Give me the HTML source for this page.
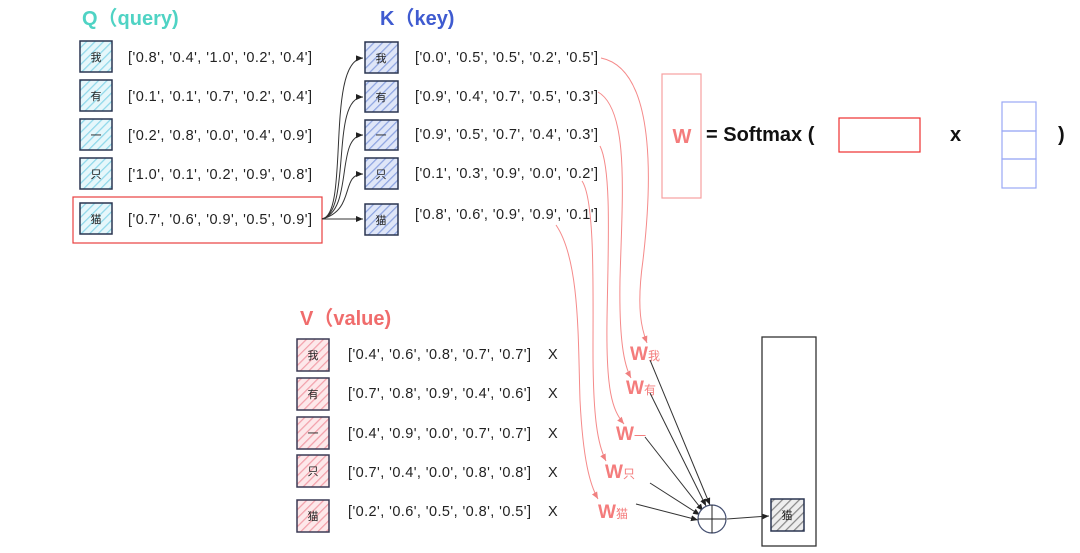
<!DOCTYPE html>
<html><head><meta charset="utf-8"><style>
html,body{margin:0;padding:0;background:#fff;}
svg{display:block;font-family:"Liberation Sans","Noto Sans CJK SC",sans-serif;}
.t{font-size:14.5px;fill:#222;}
.c{font-size:11px;fill:#222;}
</style></head><body>
<svg width="1080" height="553" viewBox="0 0 1080 553" xmlns="http://www.w3.org/2000/svg">
<defs>
<pattern id="hq" width="6" height="6" patternUnits="userSpaceOnUse" patternTransform="rotate(45)"><rect width="6" height="6" fill="#e6f7fb"/><line x1="0" y1="0" x2="0" y2="6" stroke="#8fd8ea" stroke-width="2.5"/></pattern>
<pattern id="hk" width="6" height="6" patternUnits="userSpaceOnUse" patternTransform="rotate(45)"><rect width="6" height="6" fill="#dfe6f8"/><line x1="0" y1="0" x2="0" y2="6" stroke="#8ea4e0" stroke-width="2.5"/></pattern>
<pattern id="hv" width="6" height="6" patternUnits="userSpaceOnUse" patternTransform="rotate(45)"><rect width="6" height="6" fill="#fde8ea"/><line x1="0" y1="0" x2="0" y2="6" stroke="#f2a0aa" stroke-width="2.5"/></pattern>
<pattern id="ho" width="6" height="6" patternUnits="userSpaceOnUse" patternTransform="rotate(45)"><rect width="6" height="6" fill="#eee"/><line x1="0" y1="0" x2="0" y2="6" stroke="#888" stroke-width="2.5"/></pattern>
<marker id="ab" markerWidth="8" markerHeight="8" refX="7" refY="4" orient="auto"><path d="M0,1 L7,4 L0,7 z" fill="#222"/></marker>
<marker id="ar" markerWidth="8" markerHeight="8" refX="7" refY="4" orient="auto"><path d="M0,1 L7,4 L0,7 z" fill="#f08080"/></marker>
</defs>

<text x="82" y="25" font-size="20" font-weight="bold" fill="#4fd3c4">Q（query)</text>
<text x="380" y="25" font-size="20" font-weight="bold" fill="#3f5bd0">K（key)</text>
<text x="300" y="325" font-size="20" font-weight="bold" fill="#f06c6c">V（value)</text>

<g stroke="#2a3550" stroke-width="1.5">
<rect x="80" y="41" width="32" height="31" fill="url(#hq)"/>
<rect x="80" y="80" width="32" height="31" fill="url(#hq)"/>
<rect x="80" y="119" width="32" height="31" fill="url(#hq)"/>
<rect x="80" y="158" width="32" height="31" fill="url(#hq)"/>
<rect x="80" y="203" width="32" height="31" fill="url(#hq)"/>
</g>
<text class="c" x="96" y="61" text-anchor="middle">我</text>
<text class="c" x="96" y="100" text-anchor="middle">有</text>
<text class="c" x="96" y="139" text-anchor="middle">一</text>
<text class="c" x="96" y="178" text-anchor="middle">只</text>
<text class="c" x="96" y="223" text-anchor="middle">猫</text>
<text class="t" x="128" y="62" textLength="184">['0.8', '0.4', '1.0', '0.2', '0.4']</text>
<text class="t" x="128" y="101" textLength="184">['0.1', '0.1', '0.7', '0.2', '0.4']</text>
<text class="t" x="128" y="140" textLength="184">['0.2', '0.8', '0.0', '0.4', '0.9']</text>
<text class="t" x="128" y="179" textLength="184">['1.0', '0.1', '0.2', '0.9', '0.8']</text>
<text class="t" x="128" y="224" textLength="184">['0.7', '0.6', '0.9', '0.5', '0.9']</text>
<rect x="73" y="197" width="249" height="46" fill="none" stroke="#e84040" stroke-width="1.2"/>

<g stroke="#2a3550" stroke-width="1.5">
<rect x="365" y="42" width="33" height="31" fill="url(#hk)"/>
<rect x="365" y="81" width="33" height="31" fill="url(#hk)"/>
<rect x="365" y="120" width="33" height="30" fill="url(#hk)"/>
<rect x="365" y="158" width="33" height="31" fill="url(#hk)"/>
<rect x="365" y="204" width="33" height="31" fill="url(#hk)"/>
</g>
<text class="c" x="381" y="62" text-anchor="middle">我</text>
<text class="c" x="381" y="101" text-anchor="middle">有</text>
<text class="c" x="381" y="139" text-anchor="middle">一</text>
<text class="c" x="381" y="178" text-anchor="middle">只</text>
<text class="c" x="381" y="224" text-anchor="middle">猫</text>
<text class="t" x="415" y="62" textLength="183">['0.0', '0.5', '0.5', '0.2', '0.5']</text>
<text class="t" x="415" y="101" textLength="183">['0.9', '0.4', '0.7', '0.5', '0.3']</text>
<text class="t" x="415" y="139" textLength="183">['0.9', '0.5', '0.7', '0.4', '0.3']</text>
<text class="t" x="415" y="178" textLength="183">['0.1', '0.3', '0.9', '0.0', '0.2']</text>
<text class="t" x="415" y="219" textLength="183">['0.8', '0.6', '0.9', '0.9', '0.1']</text>

<g fill="none" stroke="#333" stroke-width="1">
<path d="M322,219 C350,215 325,60 363,58" marker-end="url(#ab)"/>
<path d="M322,219 C352,212 330,97 363,97" marker-end="url(#ab)"/>
<path d="M322,219 C354,210 335,136 363,135" marker-end="url(#ab)"/>
<path d="M322,219 C356,210 340,174 363,174" marker-end="url(#ab)"/>
<path d="M322,219 L363,219" marker-end="url(#ab)"/>
</g>

<rect x="662" y="74" width="39" height="124" fill="none" stroke="#f7a0a0" stroke-width="1.2"/>
<text x="682" y="143" text-anchor="middle" font-size="20" font-weight="bold" fill="#f47c7c">W</text>
<text x="706" y="141" font-size="20" font-weight="bold" fill="#111">= Softmax  (</text>
<rect x="839" y="118" width="81" height="34" fill="none" stroke="#ee3030" stroke-width="1.2"/>
<text x="950" y="141" font-size="20" font-weight="bold" fill="#111">x</text>
<g fill="none" stroke="#9aa8f5" stroke-width="1.2">
<rect x="1002" y="102" width="34" height="29"/>
<rect x="1002" y="131" width="34" height="28"/>
<rect x="1002" y="159" width="34" height="29"/>
</g>
<text x="1058" y="141" font-size="20" font-weight="bold" fill="#111">)</text>

<g stroke="#3a3a55" stroke-width="1.5">
<rect x="297" y="339" width="32" height="32" fill="url(#hv)"/>
<rect x="297" y="378" width="32" height="32" fill="url(#hv)"/>
<rect x="297" y="417" width="32" height="32" fill="url(#hv)"/>
<rect x="297" y="455" width="32" height="32" fill="url(#hv)"/>
<rect x="297" y="500" width="32" height="32" fill="url(#hv)"/>
</g>
<text class="c" x="313" y="359" text-anchor="middle">我</text>
<text class="c" x="313" y="398" text-anchor="middle">有</text>
<text class="c" x="313" y="437" text-anchor="middle">一</text>
<text class="c" x="313" y="475" text-anchor="middle">只</text>
<text class="c" x="313" y="520" text-anchor="middle">猫</text>
<text class="t" x="348" y="359" textLength="183">['0.4', '0.6', '0.8', '0.7', '0.7']</text>
<text class="t" x="348" y="398" textLength="183">['0.7', '0.8', '0.9', '0.4', '0.6']</text>
<text class="t" x="348" y="438" textLength="183">['0.4', '0.9', '0.0', '0.7', '0.7']</text>
<text class="t" x="348" y="477" textLength="183">['0.7', '0.4', '0.0', '0.8', '0.8']</text>
<text class="t" x="348" y="516" textLength="183">['0.2', '0.6', '0.5', '0.8', '0.5']</text>
<g class="t"><text x="548" y="359">X</text><text x="548" y="398">X</text><text x="548" y="438">X</text><text x="548" y="477">X</text><text x="548" y="516">X</text></g>

<g fill="none" stroke="#f58a8a" stroke-width="1">
<path d="M601,58 C660,70 650,200 643,260 C636,310 642,330 647,343" marker-end="url(#ar)"/>
<path d="M598,92 C630,110 622,200 620,280 C619,340 624,365 631,378" marker-end="url(#ar)"/>
<path d="M600,146 C612,170 608,250 607,320 C606,390 612,410 624,424" marker-end="url(#ar)"/>
<path d="M582,181 C595,200 593,290 593,350 C593,420 598,445 606,461" marker-end="url(#ar)"/>
<path d="M556,225 C580,260 578,340 580,400 C583,460 590,485 598,499" marker-end="url(#ar)"/>
</g>

<g font-weight="bold" fill="#f47c7c">
<text x="630" y="360" font-size="19">W<tspan font-size="12" font-weight="normal">我</tspan></text>
<text x="626" y="394" font-size="19">W<tspan font-size="12" font-weight="normal">有</tspan></text>
<text x="616" y="440" font-size="19">W<tspan font-size="12" font-weight="normal">一</tspan></text>
<text x="605" y="478" font-size="19">W<tspan font-size="12" font-weight="normal">只</tspan></text>
<text x="598" y="518" font-size="19">W<tspan font-size="12" font-weight="normal">猫</tspan></text>
</g>

<g fill="none" stroke="#333" stroke-width="1">
<path d="M650,360 L710,505" marker-end="url(#ab)"/>
<path d="M650,393 L706,506" marker-end="url(#ab)"/>
<path d="M645,437 L703,511" marker-end="url(#ab)"/>
<path d="M650,483 L700,515" marker-end="url(#ab)"/>
<path d="M636,504 L698,520" marker-end="url(#ab)"/>
<path d="M727,519 L769,516" marker-end="url(#ab)"/>
</g>
<circle cx="712" cy="519" r="14" fill="#fff" stroke="#444f70" stroke-width="1.2"/>
<line x1="698" y1="519" x2="726" y2="519" stroke="#222"/>
<line x1="712" y1="505" x2="712" y2="533" stroke="#222"/>

<rect x="762" y="337" width="54" height="209" fill="none" stroke="#333" stroke-width="1.3"/>
<rect x="771" y="499" width="33" height="32" fill="url(#ho)" stroke="#2a3550" stroke-width="1.5"/>
<text class="c" x="787" y="519" text-anchor="middle">猫</text>
</svg>
</body></html>
